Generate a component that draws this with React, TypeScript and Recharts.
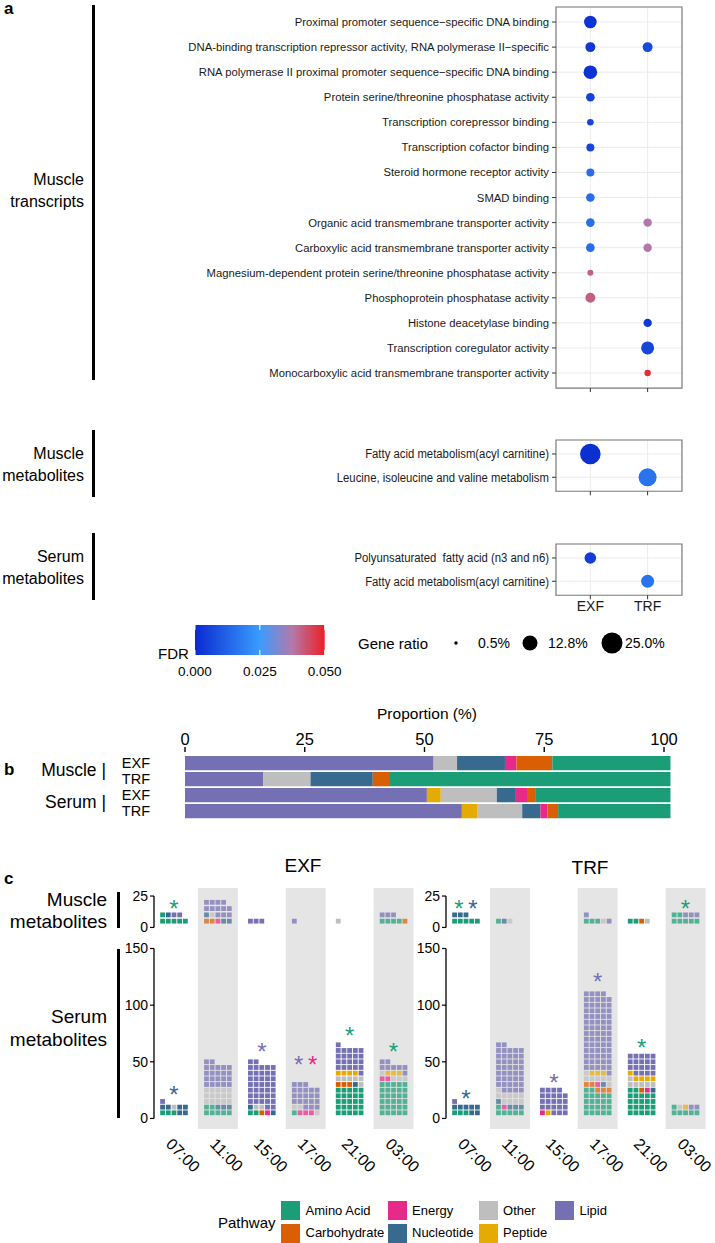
import React from "react";
import {
  ScatterChart,
  Scatter,
  XAxis,
  YAxis,
  ZAxis,
  CartesianGrid,
  ReferenceArea,
  ReferenceLine,
  Cell,
  BarChart,
  Bar,
} from "recharts";

const SANS = "'Liberation Sans', Arial, Helvetica, sans-serif";
const PAGE_W = 715;

// ---------- a: enrichment dot plots ----------
const CONDITIONS = ["EXF", "TRF"];

const TRANSCRIPT_TERMS = [
  "Proximal promoter sequence−specific DNA binding",
  "DNA-binding transcription repressor activity, RNA polymerase II−specific",
  "RNA polymerase II proximal promoter sequence−specific DNA binding",
  "Protein serine/threonine phosphatase activity",
  "Transcription corepressor binding",
  "Transcription cofactor binding",
  "Steroid hormone receptor activity",
  "SMAD binding",
  "Organic acid transmembrane transporter activity",
  "Carboxylic acid transmembrane transporter activity",
  "Magnesium-dependent protein serine/threonine phosphatase activity",
  "Phosphoprotein phosphatase activity",
  "Histone deacetylase binding",
  "Transcription coregulator activity",
  "Monocarboxylic acid transmembrane transporter activity",
];
// gene ratio (%) and FDR per term; null = not enriched in that condition
const TRANSCRIPT_EXF_RATIO = [8.9, 5.5, 10.4, 4.1, 2.3, 3.5, 3.5, 4.1, 4.1, 4.1, 1.9, 5.5, null, null, null];
const TRANSCRIPT_EXF_FDR = [0.002, 0.003, 0.002, 0.005, 0.006, 0.006, 0.015, 0.015, 0.015, 0.015, 0.041, 0.041, null, null, null];
const TRANSCRIPT_TRF_RATIO = [null, 5.5, null, null, null, null, null, null, 3.9, 3.9, null, null, 3.9, 9.5, 2.2];
const TRANSCRIPT_TRF_FDR = [null, 0.007, null, null, null, null, null, null, 0.037, 0.037, null, null, 0.003, 0.006, 0.048];

const MUSCLE_MET_TERMS = ["Fatty acid metabolism(acyl carnitine)", "Leucine, isoleucine and valine metabolism"];
const MUSCLE_MET_EXF_RATIO = [24.1, null];
const MUSCLE_MET_EXF_FDR = [0.001, null];
const MUSCLE_MET_TRF_RATIO = [null, 18.3];
const MUSCLE_MET_TRF_FDR = [null, 0.016];

const SERUM_MET_TERMS = ["Polyunsaturated\u00a0 fatty acid (n3 and n6)", "Fatty acid metabolism(acyl carnitine)"];
const SERUM_MET_EXF_RATIO = [7.5, null];
const SERUM_MET_EXF_FDR = [0.004, null];
const SERUM_MET_TRF_RATIO = [null, 9.5];
const SERUM_MET_TRF_FDR = [null, 0.016];

const FDR_TICKS = [0, 0.025, 0.05];
const RATIO_LEGEND = [0.5, 12.8, 25.0];

// colour ramp for FDR (value, rgb)
const FDR_STOPS: [number, number[]][] = [
  [0, [10, 42, 208]],
  [0.025, [58, 156, 255]],
  [0.0375, [180, 120, 170]],
  [0.05, [236, 32, 36]],
];
function fdrColor(f: number) {
  for (let i = 1; i < FDR_STOPS.length; i++) {
    const [v0, c0] = FDR_STOPS[i - 1];
    const [v1, c1] = FDR_STOPS[i];
    if (f <= v1 || i === FDR_STOPS.length - 1) {
      const t = Math.max(0, Math.min(1, (f - v0) / (v1 - v0)));
      const c = c0.map((a, k) => Math.round(a + (c1[k] - a) * t));
      return `rgb(${c[0]},${c[1]},${c[2]})`;
    }
  }
  return "#000";
}
const RATIO_DOMAIN = [0.5, 25];
const RATIO_AREA = [9, 346];
const ratioRadius = (v: number) =>
  Math.sqrt((RATIO_AREA[0] + ((v - RATIO_DOMAIN[0]) / (RATIO_DOMAIN[1] - RATIO_DOMAIN[0])) * (RATIO_AREA[1] - RATIO_AREA[0])) / Math.PI);

// ---------- b: pathway proportions ----------
const BAR_ROWS = ["Muscle EXF", "Muscle TRF", "Serum EXF", "Serum TRF"];
const BAR_CONDITIONS = ["EXF", "TRF", "EXF", "TRF"];
const PROP_LIPID = [51.9, 16.3, 50.5, 57.8];
const PROP_PEPTIDE = [0, 0, 2.9, 3.3];
const PROP_OTHER = [4.9, 9.9, 11.7, 9.3];
const PROP_NUCLEOTIDE = [10.0, 13.0, 3.8, 3.8];
const PROP_ENERGY = [2.4, 0, 2.5, 1.5];
const PROP_CARBOHYDRATE = [7.5, 3.4, 1.7, 2.2];
const PROP_AMINO = [24.7, 58.8, 28.3, 23.5];
const PROP_TICKS = [0, 25, 50, 75, 100];

// ---------- c: waffles of significant metabolites ----------
const PATHWAYS = ["Amino Acid", "Carbohydrate", "Energy", "Nucleotide", "Other", "Peptide", "Lipid"];
const TIMES = ["07:00", "11:00", "15:00", "17:00", "21:00", "03:00"];

type Run = [string, number];
// each time point: runs of [pathway, number of metabolites] in fill order
const EXF_MUSCLE: Run[][] = [
  [["Amino Acid", 6], ["Nucleotide", 1], ["Lipid", 2]],
  [["Carbohydrate", 2], ["Energy", 1], ["Nucleotide", 3], ["Other", 1], ["Lipid", 12]],
  [["Lipid", 3]],
  [["Lipid", 1]],
  [["Other", 1]],
  [["Amino Acid", 4], ["Carbohydrate", 1], ["Lipid", 3]],
];
const TRF_MUSCLE: Run[][] = [
  [["Amino Acid", 5], ["Nucleotide", 3]],
  [["Amino Acid", 1], ["Nucleotide", 1], ["Other", 1]],
  [],
  [["Amino Acid", 3], ["Other", 1], ["Lipid", 2]],
  [["Amino Acid", 2], ["Carbohydrate", 1], ["Other", 1]],
  [["Amino Acid", 7], ["Lipid", 3]],
];
const EXF_SERUM: Run[][] = [
  [["Amino Acid", 3], ["Nucleotide", 4], ["Other", 1], ["Nucleotide", 2], ["Lipid", 1]],
  [["Amino Acid", 7], ["Nucleotide", 3], ["Other", 15], ["Lipid", 22]],
  [["Amino Acid", 2], ["Carbohydrate", 1], ["Energy", 1], ["Nucleotide", 2], ["Other", 2], ["Lipid", 39]],
  [["Amino Acid", 1], ["Energy", 3], ["Other", 3], ["Lipid", 21]],
  [["Amino Acid", 25], ["Carbohydrate", 3], ["Nucleotide", 1], ["Other", 6], ["Peptide", 4], ["Lipid", 22]],
  [["Amino Acid", 30], ["Energy", 2], ["Other", 4], ["Peptide", 3], ["Lipid", 8]],
];
const TRF_SERUM: Run[][] = [
  [["Amino Acid", 3], ["Nucleotide", 7], ["Lipid", 1]],
  [["Amino Acid", 6], ["Energy", 1], ["Nucleotide", 4], ["Other", 10], ["Lipid", 41]],
  [["Energy", 1], ["Peptide", 1], ["Lipid", 22]],
  [["Amino Acid", 22], ["Carbohydrate", 5], ["Energy", 1], ["Nucleotide", 1], ["Other", 7], ["Peptide", 3], ["Lipid", 70]],
  [["Amino Acid", 22], ["Carbohydrate", 1], ["Energy", 1], ["Nucleotide", 1], ["Other", 6], ["Peptide", 5], ["Lipid", 19]],
  [["Amino Acid", 6], ["Other", 1], ["Peptide", 1], ["Lipid", 2]],
];

// significance marks: [time index (1-based), y, pathways]
type Star = [number, number, string[]];
const EXF_MUSCLE_STARS: Star[] = [[1, 19, ["Amino Acid"]]];
const TRF_MUSCLE_STARS: Star[] = [
  [1, 19, ["Amino Acid", "Nucleotide"]],
  [6, 19, ["Amino Acid"]],
];
const EXF_SERUM_STARS: Star[] = [
  [1, 25.6, ["Nucleotide"]],
  [3, 63.8, ["Lipid"]],
  [4, 52, ["Lipid", "Energy"]],
  [5, 78, ["Amino Acid"]],
  [6, 63.2, ["Amino Acid"]],
];
const TRF_SERUM_STARS: Star[] = [
  [1, 22, ["Nucleotide"]],
  [3, 36.2, ["Lipid"]],
  [4, 125, ["Lipid"]],
  [5, 66.7, ["Amino Acid"]],
];
const MUSCLE_TICKS = [0, 25];
const SERUM_TICKS = [0, 50, 100, 150];

// ---------- styles ----------
const PATHWAY_COLORS: Record<string, string> = {
  "Amino Acid": "#1b9e77",
  Carbohydrate: "#d95f02",
  Energy: "#e7298a",
  Nucleotide: "#386a90",
  Other: "#bebebe",
  Peptide: "#e6ab02",
  Lipid: "#7570b3",
};
const BAR_STACK_ORDER = ["Lipid", "Peptide", "Other", "Nucleotide", "Energy", "Carbohydrate", "Amino Acid"];
const PROP_BY_PATHWAY: Record<string, number[]> = {
  Lipid: PROP_LIPID,
  Peptide: PROP_PEPTIDE,
  Other: PROP_OTHER,
  Nucleotide: PROP_NUCLEOTIDE,
  Energy: PROP_ENERGY,
  Carbohydrate: PROP_CARBOHYDRATE,
  "Amino Acid": PROP_AMINO,
};

function Txt({ x, y, lines, size = 16, align = "left", weight = 400, lh }: any) {
  const h = lh ?? size * 1.2;
  const style: React.CSSProperties = {
    position: "absolute",
    top: y - (lines.length * h) / 2,
    fontSize: size,
    lineHeight: `${h}px`,
    fontWeight: weight,
    whiteSpace: "pre",
    textAlign: align,
    fontFamily: SANS,
  };
  if (align === "right") style.right = PAGE_W - x;
  else if (align === "center") {
    style.left = x - 150;
    style.width = 300;
  } else style.left = x;
  return (
    <div style={style}>
      {lines.map((l: string, i: number) => (
        <div key={i}>{l}</div>
      ))}
    </div>
  );
}

function VBar({ x, y1, y2, w = 2.5 }: any) {
  return <div style={{ position: "absolute", left: x, top: y1, width: w, height: y2 - y1, background: "#000" }} />;
}

// term label, optionally squeezed horizontally (condensed look of the metabolite panels)
function TermTick({ x, y, payload, terms, fontSize, squeeze }: any) {
  return (
    <text
      x={0}
      y={0}
      textAnchor="end"
      dominantBaseline="central"
      fontSize={fontSize}
      fill="#1a1a1a"
      fontFamily={SANS}
      transform={`translate(${x} ${y}) scale(${squeeze} 1)`}
    >
      {terms[payload.value - 1]}
    </text>
  );
}

// one enrichment panel (rows = terms, x = condition)
function DotPanel({ terms, exfR, exfF, trfR, trfF, rowStep, top, fontSize, squeeze, showX }: any) {
  const n = terms.length;
  const pts: any[] = [];
  terms.forEach((_: string, i: number) => {
    if (exfR[i] != null) pts.push({ x: 1, y: i + 1, ratio: exfR[i], fdr: exfF[i] });
    if (trfR[i] != null) pts.push({ x: 2, y: i + 1, ratio: trfR[i], fdr: trfF[i] });
  });
  const plotH = rowStep * (n + 0.2);
  const xH = showX ? 24 : 8;
  const mt = 2;
  return (
    <div style={{ position: "absolute", left: 100, top: top - mt }}>
      <ScatterChart width={583} height={plotH + xH + mt} margin={{ top: mt, right: 1, bottom: 0, left: 0 }}>
        <CartesianGrid stroke="#ebebeb" strokeWidth={1} />
        <XAxis
          type="number"
          dataKey="x"
          domain={[0.4, 2.6]}
          ticks={[1, 2]}
          interval={0}
          allowDataOverflow
          axisLine={false}
          tickLine={{ stroke: "#333" }}
          tickSize={4}
          tickMargin={2}
          height={xH}
          tickFormatter={(v: number) => (showX ? CONDITIONS[v - 1] : "")}
          tick={{ fontSize: 14, fill: "#1a1a1a", fontFamily: SANS }}
        />
        <YAxis
          type="number"
          dataKey="y"
          reversed
          domain={[0.4, n + 0.6]}
          ticks={terms.map((_: string, i: number) => i + 1)}
          interval={0}
          allowDataOverflow
          width={456}
          axisLine={false}
          tickLine={{ stroke: "#333" }}
          tickSize={4}
          tickMargin={3}
          tick={<TermTick terms={terms} fontSize={fontSize} squeeze={squeeze} />}
        />
        <ZAxis type="number" dataKey="ratio" domain={RATIO_DOMAIN} range={RATIO_AREA} />
        <Scatter data={pts} isAnimationActive={false}>
          {pts.map((p, i) => (
            <Cell key={i} fill={fdrColor(p.fdr)} />
          ))}
        </Scatter>
        <ReferenceArea
          x1={0.4}
          x2={2.6}
          y1={0.4}
          y2={n + 0.6}
          fill="#fff"
          fillOpacity={0}
          stroke="#7f7f7f"
          strokeWidth={1.2}
          ifOverflow="visible"
        />
      </ScatterChart>
    </div>
  );
}

// waffle geometry
const WAFFLE_X_DOMAIN = [0.545, 6.5];
const WAFFLE_W = 315.5;
const WAFFLE_AXIS_W = 54;
const SQUARE = 4.8;
const SQUARE_STEP_PX = 5.7;
const ROW_UNITS = 5;

function TimeTick({ x, y, payload }: any) {
  const ax = x - 9;
  const ay = y + 16;
  return (
    <text x={ax} y={ay} transform={`rotate(45 ${ax} ${ay})`} fontSize={16} fill="#000" fontFamily={SANS}>
      {TIMES[payload.value - 1]}
    </text>
  );
}

function Waffle({ runs, stars, serum, left, top }: any) {
  const yDomain = serum ? [-9.3, 157.5] : [-10, 31.4];
  const plotH = serum ? 189 : 52;
  const xH = serum ? 60 : 0;
  const unitPx = (WAFFLE_W - WAFFLE_AXIS_W) / (WAFFLE_X_DOMAIN[1] - WAFFLE_X_DOMAIN[0]);
  const step = SQUARE_STEP_PX / unitPx;
  const banded = (t: number) => t % 2 === 0;

  const squares: any[] = [];
  runs.forEach((list: Run[], ti: number) => {
    let k = 0;
    list.forEach(([pw, count]) => {
      for (let i = 0; i < count; i++) {
        const slot = k % 5;
        const row = Math.floor(k / 5) + 1;
        squares.push({ x: ti + 1 + (slot - 2) * step, y: row * ROW_UNITS, pathway: pw, banded: banded(ti + 1) });
        k++;
      }
    });
  });
  const starPts: any[] = [];
  stars.forEach(([t, y, pws]: Star) => {
    pws.forEach((pw, j) => {
      starPts.push({ x: t + (j - (pws.length - 1) / 2) * 0.32, y, pathway: pw });
    });
  });
  const ticks = serum ? SERUM_TICKS : MUSCLE_TICKS;

  return (
    <div style={{ position: "absolute", left, top }}>
      <ScatterChart width={WAFFLE_W} height={plotH + xH} margin={{ top: 0, right: 0, bottom: 0, left: 0 }}>
        <XAxis
          type="number"
          dataKey="x"
          domain={WAFFLE_X_DOMAIN}
          ticks={TIMES.map((_, i) => i + 1)}
          interval={0}
          allowDataOverflow
          hide={!serum}
          axisLine={false}
          tickLine={false}
          tickSize={0}
          tickMargin={0}
          height={xH}
          tick={<TimeTick />}
        />
        <YAxis
          type="number"
          dataKey="y"
          domain={yDomain}
          ticks={ticks}
          interval={0}
          allowDataOverflow
          width={WAFFLE_AXIS_W}
          axisLine={false}
          tickLine={{ stroke: "#000", strokeWidth: 1.2 }}
          tickSize={4}
          tickMargin={2}
          tick={{ fontSize: 14, fill: "#000", fontFamily: SANS }}
        />
        {TIMES.map((_, i) =>
          banded(i + 1) ? (
            <ReferenceArea
              key={i}
              x1={i + 1 - 0.455}
              x2={i + 1 + 0.455}
              y1={yDomain[0]}
              y2={yDomain[1]}
              fill="#e5e5e5"
              fillOpacity={1}
              stroke="none"
              ifOverflow="visible"
            />
          ) : null
        )}
        <ReferenceLine
          segment={[
            { x: WAFFLE_X_DOMAIN[0], y: ticks[0] },
            { x: WAFFLE_X_DOMAIN[0], y: ticks[ticks.length - 1] },
          ]}
          stroke="#000"
          strokeWidth={1.3}
          ifOverflow="visible"
        />
        {PATHWAYS.map((pw) => {
          const data = squares.filter((s) => s.pathway === pw);
          if (!data.length) return null;
          const color = PATHWAY_COLORS[pw];
          return (
            <Scatter
              key={pw}
              data={data}
              isAnimationActive={false}
              shape={(p: any) => (
                <rect
                  x={p.cx - SQUARE / 2}
                  y={p.cy - SQUARE / 2}
                  width={SQUARE}
                  height={SQUARE}
                  fill={color}
                  fillOpacity={p.payload.banded ? 0.72 : 1}
                />
              )}
            />
          );
        })}
        <Scatter
          data={starPts}
          isAnimationActive={false}
          shape={(p: any) => (
            <text x={p.cx} y={p.cy + 13.5} textAnchor="middle" fontSize={24} fill={PATHWAY_COLORS[p.payload.pathway]} fontFamily={SANS}>
              *
            </text>
          )}
        />
      </ScatterChart>
    </div>
  );
}

export default function App() {
  const barData = BAR_ROWS.map((row, i) => {
    const d: any = { row };
    BAR_STACK_ORDER.forEach((p) => (d[p] = PROP_BY_PATHWAY[p][i]));
    return d;
  });
  const cbX0 = 195;
  const cbW = 129.7;

  return (
    <div
      style={{
        position: "absolute",
        left: 0,
        top: 0,
        width: PAGE_W,
        height: 1243,
        background: "#fff",
        fontFamily: SANS,
        color: "#000",
        overflow: "hidden",
      }}
    >
      <style>{`.recharts-surface { overflow: visible; }`}</style>

      {/* ---------- a ---------- */}
      <Txt x={4} y={9} lines={["a"]} size={17} weight={700} />
      <Txt x={84} y={191} lines={["Muscle", "transcripts"]} size={16} align="right" lh={22} />
      <VBar x={92} y1={5} y2={380} />
      <Txt x={84} y={465} lines={["Muscle", "metabolites"]} size={16} align="right" lh={22} />
      <VBar x={92} y1={430} y2={497} />
      <Txt x={84} y={568} lines={["Serum", "metabolites"]} size={16} align="right" lh={22} />
      <VBar x={92} y1={533} y2={600} />

      <DotPanel
        terms={TRANSCRIPT_TERMS}
        exfR={TRANSCRIPT_EXF_RATIO}
        exfF={TRANSCRIPT_EXF_FDR}
        trfR={TRANSCRIPT_TRF_RATIO}
        trfF={TRANSCRIPT_TRF_FDR}
        rowStep={25.07}
        top={7}
        fontSize={11.3}
        squeeze={1}
        showX={false}
      />
      <DotPanel
        terms={MUSCLE_MET_TERMS}
        exfR={MUSCLE_MET_EXF_RATIO}
        exfF={MUSCLE_MET_EXF_FDR}
        trfR={MUSCLE_MET_TRF_RATIO}
        trfF={MUSCLE_MET_TRF_FDR}
        rowStep={23.3}
        top={440}
        fontSize={13.5}
        squeeze={0.84}
        showX={false}
      />
      <DotPanel
        terms={SERUM_MET_TERMS}
        exfR={SERUM_MET_EXF_RATIO}
        exfF={SERUM_MET_EXF_FDR}
        trfR={SERUM_MET_TRF_RATIO}
        trfF={SERUM_MET_TRF_FDR}
        rowStep={23.3}
        top={544}
        fontSize={13.5}
        squeeze={0.84}
        showX={true}
      />

      {/* legends for a */}
      <svg style={{ position: "absolute", left: 0, top: 600 }} width={PAGE_W} height={90}>
        <defs>
          <linearGradient id="fdrGrad" x1="0" x2="1" y1="0" y2="0">
            {FDR_STOPS.map(([v, c], i) => (
              <stop key={i} offset={v / 0.05} stopColor={`rgb(${c[0]},${c[1]},${c[2]})`} />
            ))}
          </linearGradient>
        </defs>
        <text x={158} y={53} fontSize={15} dominantBaseline="central" fontFamily={SANS}>
          FDR
        </text>
        <rect x={cbX0} y={25} width={cbW} height={30} fill="url(#fdrGrad)" />
        {FDR_TICKS.map((v) => {
          const x = cbX0 + (v / 0.05) * cbW;
          return (
            <g key={v}>
              <line x1={x} x2={x} y1={25} y2={30} stroke="#fff" strokeWidth={1} />
              <line x1={x} x2={x} y1={50} y2={55} stroke="#fff" strokeWidth={1} />
              <text x={x} y={71} fontSize={13.5} textAnchor="middle" dominantBaseline="central" fontFamily={SANS}>
                {v.toFixed(3)}
              </text>
            </g>
          );
        })}
        <text x={358} y={43} fontSize={15} dominantBaseline="central" fontFamily={SANS}>
          Gene ratio
        </text>
        {RATIO_LEGEND.map((v, i) => {
          const cx = [456, 530, 612][i];
          const lx = [478, 548, 625][i];
          return (
            <g key={v}>
              <circle cx={cx} cy={43} r={ratioRadius(v)} fill="#000" />
              <text x={lx} y={43} fontSize={14} dominantBaseline="central" fontFamily={SANS}>
                {v.toFixed(1)}%
              </text>
            </g>
          );
        })}
      </svg>

      {/* ---------- b ---------- */}
      <Txt x={4} y={770} lines={["b"]} size={17} weight={700} />
      <Txt x={427} y={714} lines={["Proportion (%)"]} size={15.5} align="center" />
      <Txt x={106} y={770} lines={["Muscle |"]} size={17.5} align="right" />
      <Txt x={106} y={802} lines={["Serum |"]} size={17.5} align="right" />
      <div style={{ position: "absolute", left: 100, top: 700 }}>
        <BarChart
          layout="vertical"
          width={592}
          height={122}
          data={barData}
          margin={{ top: 0, right: 21.3, bottom: 0, left: 0 }}
          barSize={14.3}
        >
          <XAxis
            type="number"
            orientation="top"
            domain={[0, 101.4]}
            ticks={PROP_TICKS}
            interval={0}
            allowDataOverflow
            axisLine={false}
            tickLine={{ stroke: "#000", strokeWidth: 1.4 }}
            tickSize={5}
            tickMargin={2}
            height={52}
            tick={{ fontSize: 16.5, fill: "#000", fontFamily: SANS }}
          />
          <YAxis
            type="category"
            dataKey="row"
            width={85}
            axisLine={false}
            tickLine={false}
            tickSize={0}
            tickMargin={35}
            interval={0}
            padding={{ top: 3, bottom: 3 }}
            tickFormatter={(_: string, i: number) => BAR_CONDITIONS[i]}
            tick={{ fontSize: 14.5, fill: "#000", fontFamily: SANS }}
          />
          {BAR_STACK_ORDER.map((p) => (
            <Bar key={p} dataKey={p} stackId="prop" fill={PATHWAY_COLORS[p]} isAnimationActive={false} />
          ))}
        </BarChart>
      </div>

      {/* ---------- c ---------- */}
      <Txt x={4} y={879} lines={["c"]} size={17} weight={700} />
      <Txt x={303} y={866} lines={["EXF"]} size={19} align="center" />
      <Txt x={590} y={868} lines={["TRF"]} size={19} align="center" />
      <Txt x={107} y={911} lines={["Muscle", "metabolites"]} size={19} align="right" lh={22} />
      <VBar x={117} y1={892} y2={928} />
      <Txt x={107} y={1028} lines={["Serum", "metabolites"]} size={19} align="right" lh={23} />
      <VBar x={117} y1={949} y2={1118} />

      <Waffle runs={EXF_MUSCLE} stars={EXF_MUSCLE_STARS} serum={false} left={100} top={888} />
      <Waffle runs={EXF_SERUM} stars={EXF_SERUM_STARS} serum={true} left={100} top={940} />
      <Waffle runs={TRF_MUSCLE} stars={TRF_MUSCLE_STARS} serum={false} left={391.5} top={888} />
      <Waffle runs={TRF_SERUM} stars={TRF_SERUM_STARS} serum={true} left={391.5} top={940} />

      {/* pathway legend */}
      <Txt x={218} y={1223} lines={["Pathway"]} size={15} />
      {PATHWAYS.map((pw, i) => {
        const colX = [281, 387.5, 478.6, 555][Math.floor(i / 2)];
        const rowY = [1201, 1223.5][i % 2];
        return (
          <React.Fragment key={pw}>
            <div
              style={{ position: "absolute", left: colX, top: rowY, width: 19, height: 19, background: PATHWAY_COLORS[pw] }}
            />
            <Txt x={colX + 24.5} y={rowY + 9.5} lines={[pw]} size={13} />
          </React.Fragment>
        );
      })}
    </div>
  );
}
